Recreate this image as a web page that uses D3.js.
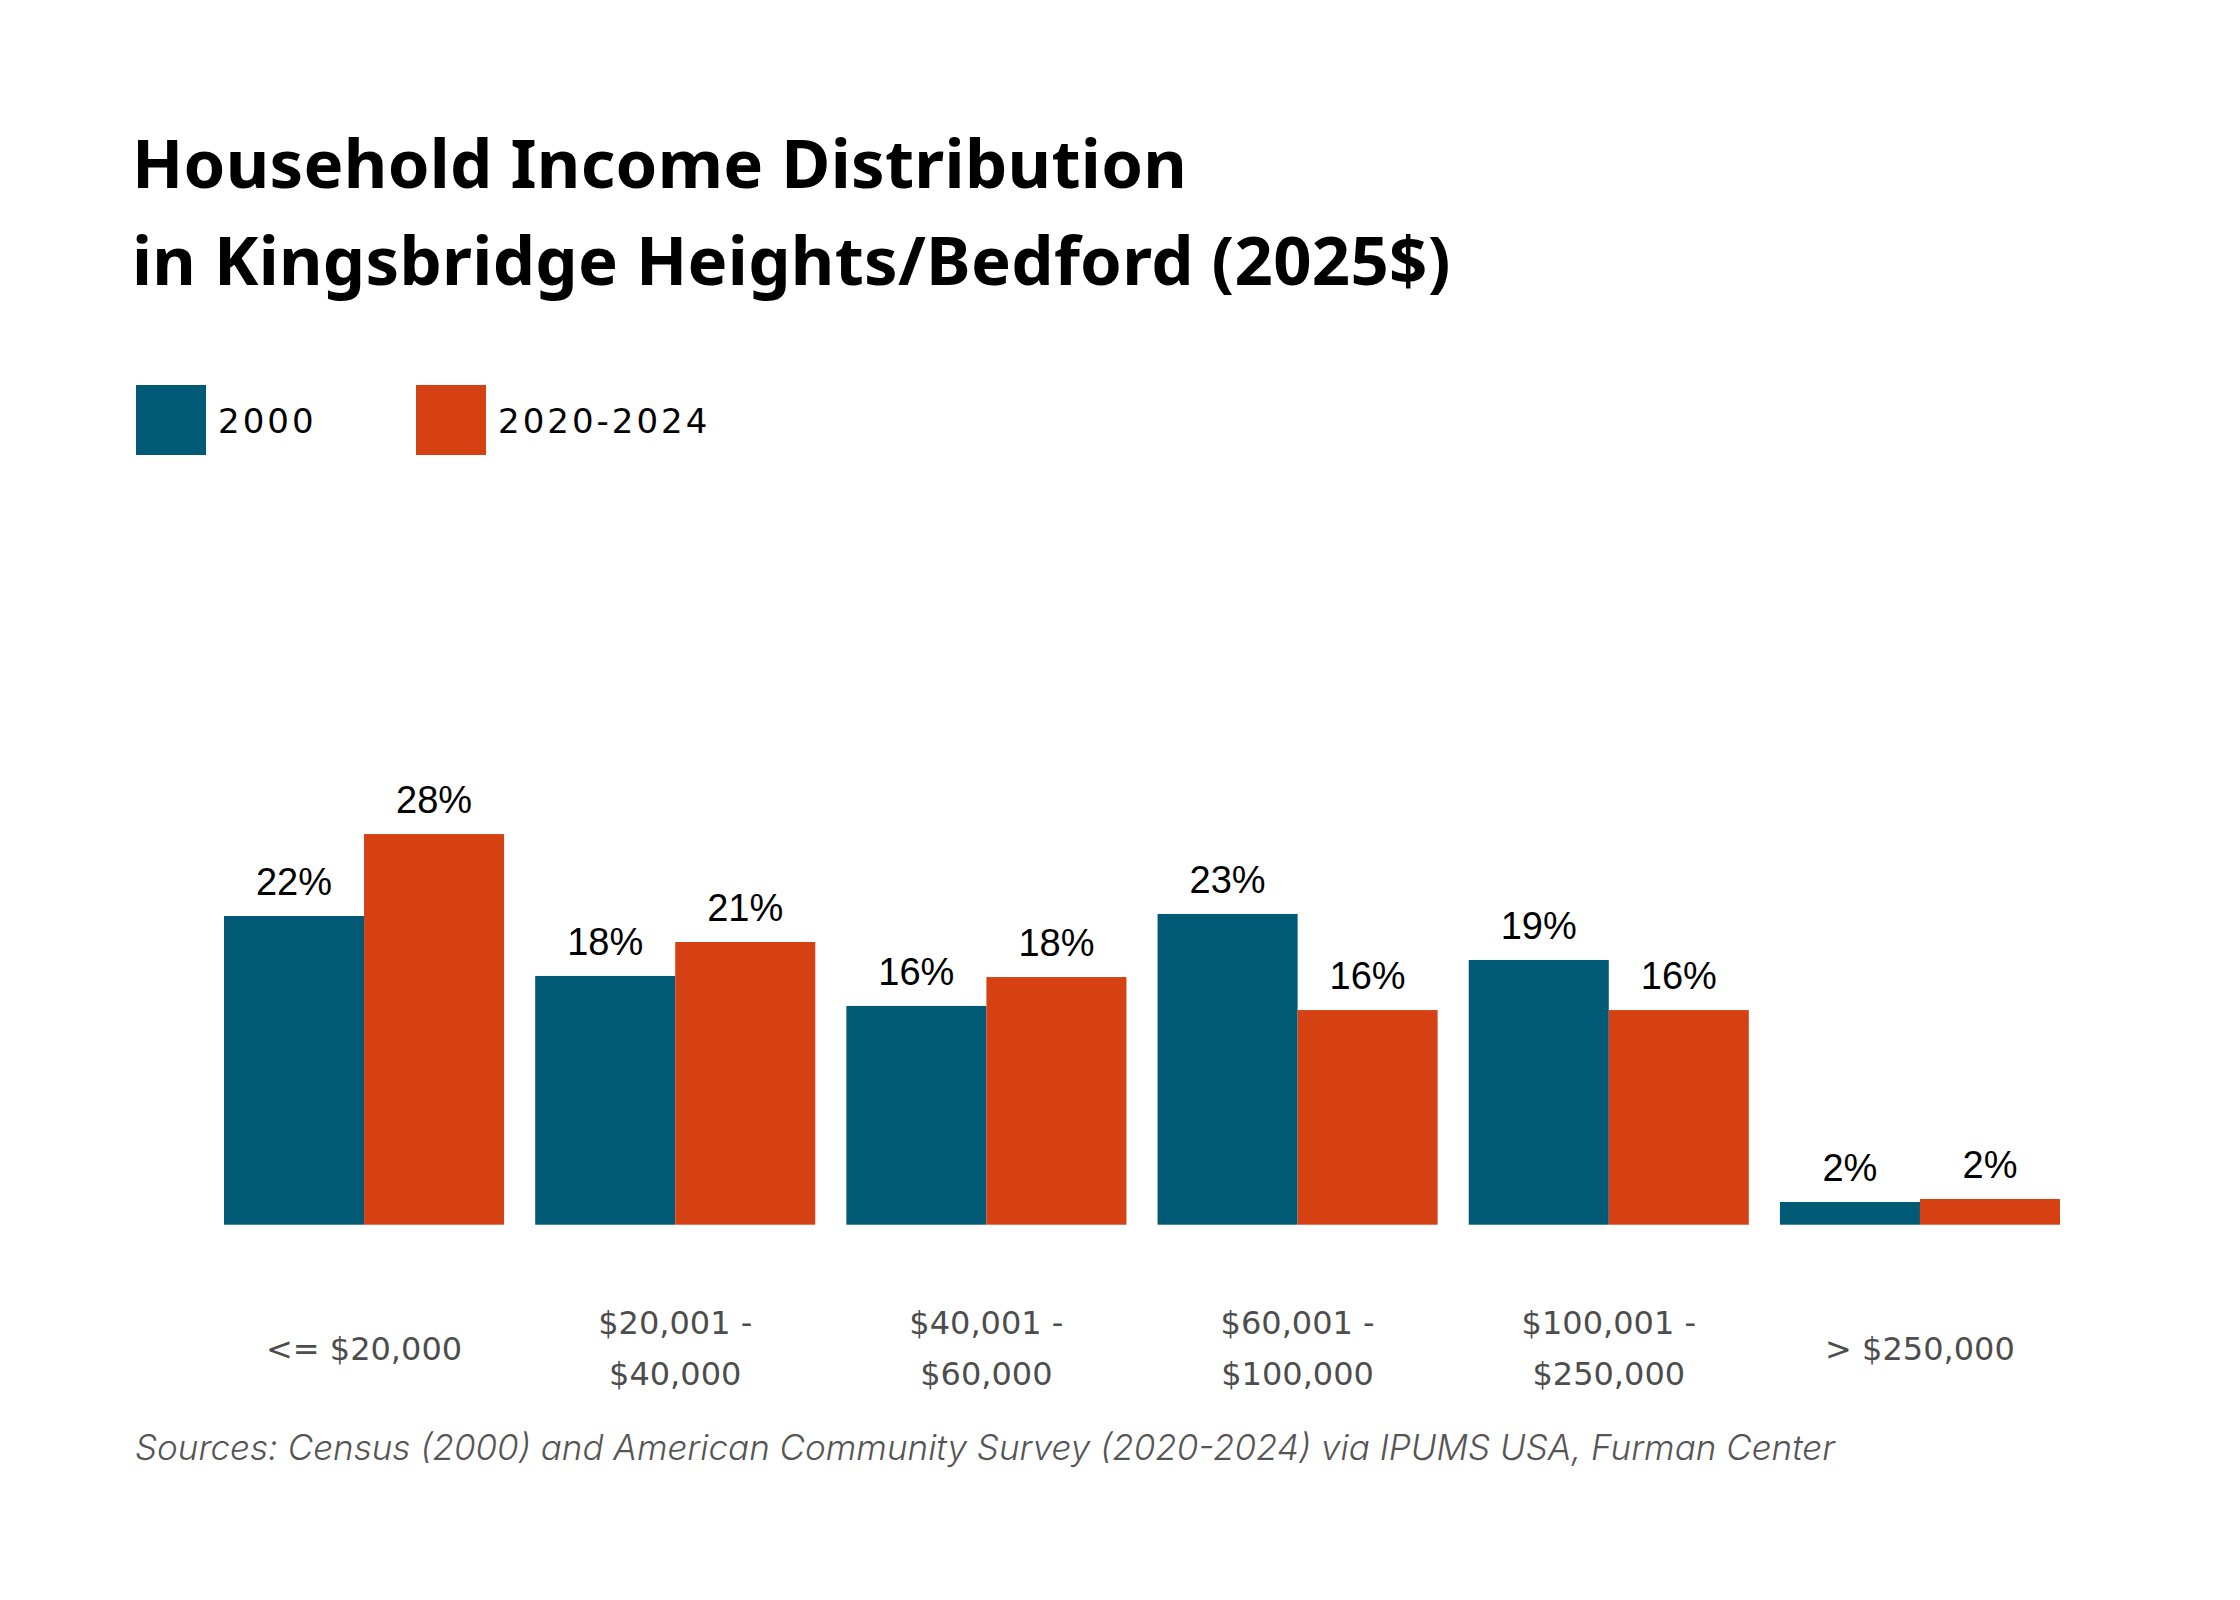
<!DOCTYPE html>
<html><head><meta charset="utf-8">
<script src="https://cdn.jsdelivr.net/npm/d3@7"></script>
<style>body{margin:0;background:#fff}</style>
</head><body>
<div id="chart"></div>
<script>
// data
const categories = ["<= $20,000", "$20,001 -\n$40,000", "$40,001 -\n$60,000", "$60,001 -\n$100,000", "$100,001 -\n$250,000", "> $250,000"];
const seriesNames = ["2000", "2020-2024"];
const values2000 = [22.45, 18.09, 15.91, 22.60, 19.25, 1.65];
const values2020 = [28.41, 20.56, 18.01, 15.61, 15.61, 1.87];

const WIDTH = 2240, HEIGHT = 1600;
const colors = ["#015a75", "#d64113"];
const rows = categories.map((c, i) => ({cat: c, vals: [values2000[i], values2020[i]]}));

const svg = d3.select("#chart").append("svg")
	.attr("width", WIDTH)
	.attr("height", HEIGHT)
	.style("background", "#fff");

// title
const title = svg.append("text")
	.style("font-family", "'Noto Sans'")
	.style("font-weight", 700)
	.style("font-size", "67px")
	.style("letter-spacing", "0.3px")
	.attr("fill", "#000");
title.append("tspan").attr("x", 132).attr("y", 188).text("Household Income Distribution");
title.append("tspan").attr("x", 132).attr("y", 285).text("in Kingsbridge Heights/Bedford (2025$)");

// legend
const legendX = d3.scaleOrdinal().domain(seriesNames).range([136, 416]);
const legend = svg.append("g").selectAll("g")
	.data(seriesNames)
	.join("g")
	.attr("transform", d => `translate(${legendX(d)},385)`);
legend.append("rect")
	.attr("width", 70)
	.attr("height", 70)
	.attr("fill", (d, i) => colors[i]);
legend.append("text")
	.attr("x", 82)
	.attr("y", 48)
	.style("font-family", "'DejaVu Sans'")
	.style("font-size", "34px")
	.style("letter-spacing", "3px")
	.attr("fill", "#000")
	.text(d => d);

// scales
const x = d3.scaleBand()
	.domain(categories)
	.range([224, 2060])
	.paddingInner(0.1)
	.paddingOuter(0);
const xInner = d3.scaleBand()
	.domain(seriesNames)
	.range([0, x.bandwidth()]);
const y = d3.scaleLinear()
	.domain([0, 30])
	.range([1224.7, 1224.7 - 412.5]);

const groups = svg.append("g").selectAll("g")
	.data(rows)
	.join("g")
	.attr("transform", d => `translate(${x(d.cat)},0)`);

const bars = groups.selectAll("g")
	.data(d => d.vals.map((v, i) => ({key: seriesNames[i], v: v, i: i})))
	.join("g");

bars.append("rect")
	.attr("x", d => xInner(d.key))
	.attr("y", d => y(d.v))
	.attr("width", xInner.bandwidth())
	.attr("height", d => y(0) - y(d.v))
	.attr("fill", d => colors[d.i]);

bars.append("text")
	.attr("x", d => xInner(d.key) + xInner.bandwidth() / 2)
	.attr("y", d => y(d.v) - 21)
	.attr("text-anchor", "middle")
	.style("font-family", "'Liberation Sans'")
	.style("font-size", "38px")
	.attr("fill", "#000")
	.text(d => Math.round(d.v) + "%");

// category labels
const catLabel = groups.append("text")
	.attr("text-anchor", "middle")
	.style("font-family", "'DejaVu Sans'")
	.style("font-size", "32px")
	.attr("fill", "#4d4d4d");
catLabel.each(function(d) {
	const lines = d.cat.split("\n");
	const base = lines.length === 1 ? 1360 : 1334;
	lines.forEach((l, k) => {
		d3.select(this).append("tspan")
			.attr("x", x.bandwidth() / 2)
			.attr("y", base + k * 51)
			.text(l);
	});
});

// source
svg.append("text")
	.attr("x", 135)
	.attr("y", 1460)
	.style("font-family", "Inter")
	.style("font-style", "italic")
	.style("font-weight", 300)
	.style("font-size", "35px")
	.attr("fill", "#555")
	.text("Sources: Census (2000) and American Community Survey (2020-2024) via IPUMS USA, Furman Center");
</script>
</body></html>
